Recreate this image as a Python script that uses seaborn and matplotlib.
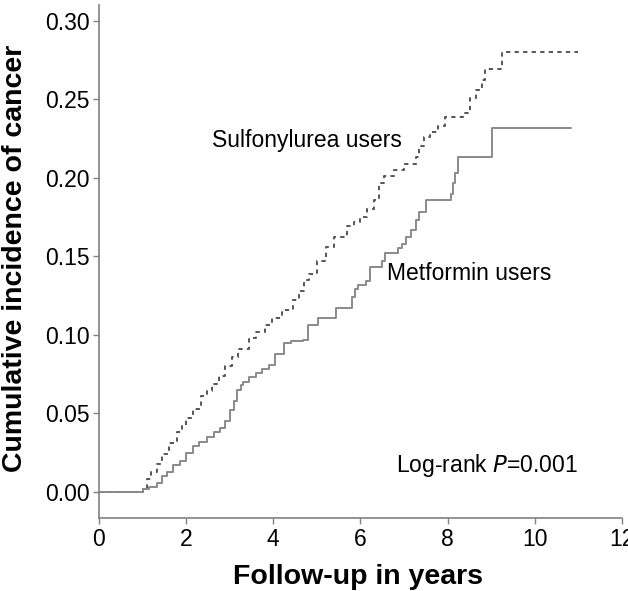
import matplotlib
matplotlib.use("Agg")
import matplotlib.pyplot as plt
import seaborn as sns
import pandas as pd

# Cumulative incidence (step curves)
metformin_years = [0, 1.0, 1.15, 1.33, 1.45, 1.56, 1.7, 1.86, 2.0, 2.16, 2.3, 2.48, 2.65, 2.78,
                   2.9, 3.0, 3.1, 3.17, 3.25, 3.3, 3.44, 3.6, 3.75, 3.9, 4.05, 4.24, 4.4, 4.68,
                   4.79, 5.02, 5.44, 5.8, 5.87, 5.95, 6.12, 6.22, 6.5, 6.56, 6.85, 6.95, 7.05,
                   7.16, 7.27, 7.35, 7.5, 8.07, 8.12, 8.17, 8.23, 9.01, 10.83]
metformin_inc = [0, 0.002, 0.003, 0.006, 0.010, 0.013, 0.017, 0.020, 0.025, 0.029, 0.032, 0.035,
                 0.038, 0.041, 0.045, 0.052, 0.058, 0.065, 0.068, 0.070, 0.073, 0.076, 0.078,
                 0.081, 0.088, 0.095, 0.096, 0.097, 0.106, 0.111, 0.117, 0.124, 0.129, 0.132,
                 0.134, 0.143, 0.147, 0.152, 0.155, 0.158, 0.162, 0.167, 0.173, 0.178, 0.186,
                 0.190, 0.197, 0.203, 0.213, 0.232, 0.232]

sulfonylurea_years = [0, 1.0, 1.1, 1.2, 1.33, 1.45, 1.6, 1.79, 1.9, 2.0, 2.16, 2.34, 2.48, 2.6,
                      2.75, 2.89, 3.05, 3.2, 3.44, 3.6, 3.8, 3.97, 4.2, 4.45, 4.6, 4.7, 4.82, 5.0,
                      5.2, 5.4, 5.69, 5.85, 5.99, 6.15, 6.3, 6.42, 6.55, 6.77, 7.0, 7.27, 7.35,
                      7.45, 7.6, 7.78, 7.94, 8.35, 8.51, 8.65, 8.78, 8.85, 9.24, 11.0]
sulfonylurea_inc = [0, 0.002, 0.008, 0.013, 0.018, 0.024, 0.031, 0.038, 0.042, 0.047, 0.053,
                    0.061, 0.064, 0.069, 0.074, 0.080, 0.086, 0.091, 0.098, 0.102, 0.106, 0.111,
                    0.116, 0.122, 0.128, 0.135, 0.139, 0.147, 0.156, 0.162, 0.169, 0.172, 0.175,
                    0.180, 0.186, 0.197, 0.201, 0.205, 0.209, 0.213, 0.220, 0.226, 0.229, 0.233,
                    0.239, 0.241, 0.251, 0.256, 0.262, 0.269, 0.280, 0.280]

x_ticks = [0, 2, 4, 6, 8, 10, 12]
y_ticks = [0.00, 0.05, 0.10, 0.15, 0.20, 0.25, 0.30]

sns.set_theme(style="white")
plt.rcParams['font.family'] = ['Liberation Sans', 'DejaVu Sans']
plt.rcParams['text.color'] = 'black'
plt.rcParams['axes.labelcolor'] = 'black'

met_df = pd.DataFrame({'years': metformin_years, 'inc': metformin_inc})
sul_df = pd.DataFrame({'years': sulfonylurea_years, 'inc': sulfonylurea_inc})

fig = plt.figure(figsize=(6.28, 5.91), dpi=100)
ax = fig.add_axes([0.1576, 0.1235, 0.8328, 0.868])

sns.lineplot(data=sul_df, x='years', y='inc', ax=ax, drawstyle='steps-post',
             color='#555555', linewidth=1.4, linestyle=(0, (2.2, 2.2)), sort=False)
sns.lineplot(data=met_df, x='years', y='inc', ax=ax, drawstyle='steps-post',
             color='#8a8a8a', linewidth=1.4, sort=False)

ax.set_xlim(0, 12)
ax.set_ylim(-0.0166, 0.31)
ax.set_xticks(x_ticks)
ax.set_yticks(y_ticks)
ax.set_xticklabels([str(t) for t in x_ticks])
ax.set_yticklabels([f'{t:.2f}' for t in y_ticks])

for side in ['top', 'right']:
    ax.spines[side].set_visible(False)
for side in ['left', 'bottom']:
    ax.spines[side].set_color('#808080')
    ax.spines[side].set_linewidth(1.2)
ax.tick_params(axis='both', direction='out', length=4, width=1, color='#808080',
               labelsize=16.5, labelcolor='black', pad=3, left=True, bottom=True)

ax.set_xlabel('Follow-up in years', fontsize=20.5, fontweight='bold')
ax.set_ylabel('Cumulative incidence of cancer', fontsize=20.5, fontweight='bold')
ax.xaxis.set_label_coords(0.496, -0.09)
ax.yaxis.set_label_coords(-0.136, 0.507)

ax.text(2.59, 0.2197, 'Sulfonylurea users', fontsize=16.5, ha='left', va='baseline')
ax.text(6.6, 0.135, 'Metformin users', fontsize=16.5, ha='left', va='baseline')
ax.text(6.81, 0.0127, 'Log-rank $\\mathit{P}$=0.001', fontsize=16.5, ha='left', va='baseline')

fig.savefig('out.png', dpi=100)
